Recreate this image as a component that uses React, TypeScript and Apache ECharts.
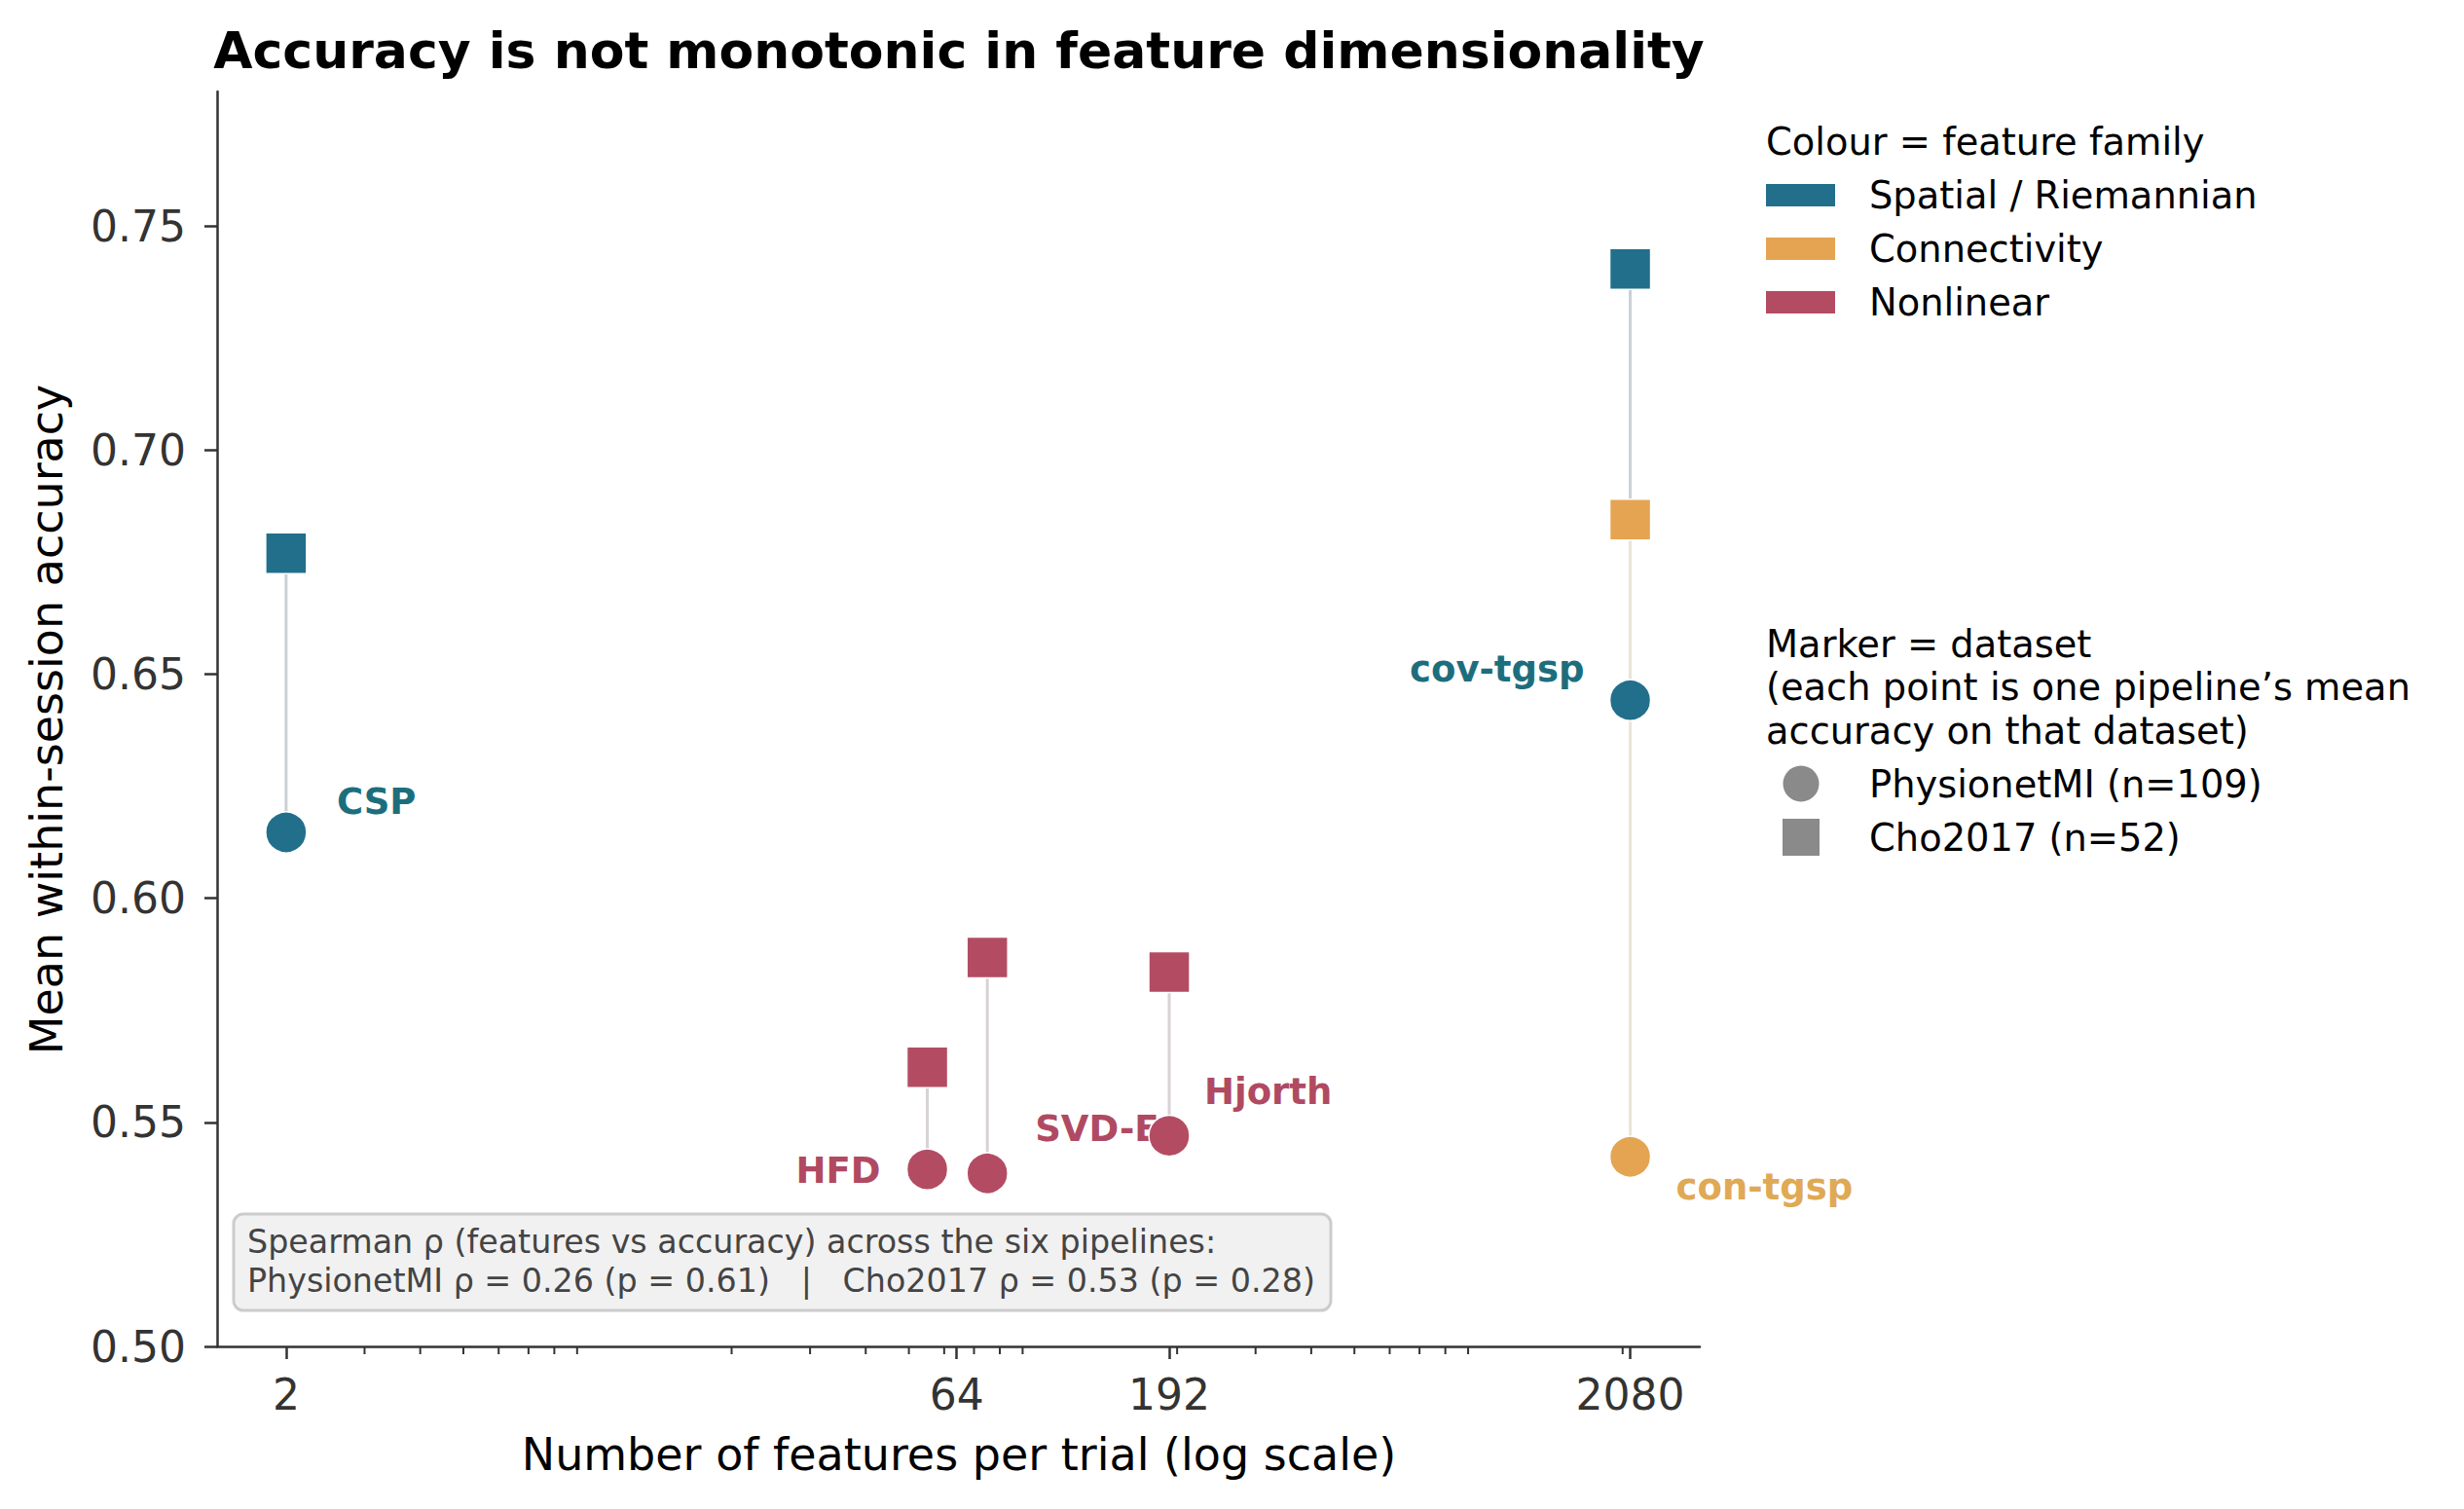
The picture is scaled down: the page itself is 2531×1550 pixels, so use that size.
import React, { useEffect, useRef } from "react";
import * as echarts from "echarts";

// ---------------- data ----------------
const pipelines = ["CSP", "cov-tgsp", "con-tgsp", "HFD", "SVD-E", "Hjorth"];
const familyOf = [0, 0, 1, 2, 2, 2]; // index into families
const families = ["Spatial / Riemannian", "Connectivity", "Nonlinear"];
const nFeatures = [2, 2080, 2080, 64, 64, 192];
// horizontal positions used for plotting (the two 64-feature pipelines are jittered apart)
const plotX = [2, 2080, 2080, 55, 75, 192];
const physionetAcc = [0.6147, 0.6442, 0.5423, 0.5395, 0.5386, 0.547];
const choAcc = [0.677, 0.7404, 0.6845, 0.5623, 0.5868, 0.5835];
const xTickValues = [2, 64, 192, 2080];
const xMinorTickValues = [3, 4, 5, 6, 7, 8, 9, 20, 30, 40, 50, 60, 70, 80, 90, 200, 300, 400, 500, 600, 700, 800, 900, 2000];
const yTickValues = [0.5, 0.55, 0.6, 0.65, 0.7, 0.75];
const datasets = ["PhysionetMI (n=109)", "Cho2017 (n=52)"];
const spearmanText = [
  "Spearman \u03c1 (features vs accuracy) across the six pipelines:",
  "PhysionetMI \u03c1 = 0.26 (p = 0.61)   |   Cho2017 \u03c1 = 0.53 (p = 0.28)",
];

// ---------------- styles ----------------
const FONT = '"DejaVu Sans", sans-serif';
const familyColors = ["#226f8b", "#e4a452", "#b34c63"];
const labelColors = ["#1d6e7d", "#dfa955", "#b04a62"];
const connectorColors = ["#cbd0d7", "#ece4d6", "#d8d2d5"];
// label offsets (px) relative to the PhysionetMI marker, and alignment
const labelOffsets: [number, number, string][] = [
  [52, -31, "left"],
  [-47, -32, "right"],
  [47, 31, "left"],
  [-48, 1, "right"],
  [49, -46, "left"],
  [36, -45, "left"],
];
const Y_MIN = 0.5;
const Y_MAX = 0.78;
const X_MIN = 1.4;
const X_MAX = 2980;
const MARKER = 42;

export default function App() {
  const ref = useRef<HTMLDivElement>(null);

  useEffect(() => {
    if (!ref.current) return;
    const chart = echarts.init(ref.current, null, { renderer: "svg" });

    const connectorData = pipelines.map((_, i) => [plotX[i], physionetAcc[i], choAcc[i], familyOf[i]]);
    const labelData = pipelines.map((_, i) => [plotX[i], physionetAcc[i], i]);

    const legendX = 1814;
    const textX = 1920;
    const legendFont = `38.4px ${FONT}`;

    const graphic: any[] = [
      {
        type: "text",
        x: 985,
        y: 52,
        style: {
          text: "Accuracy is not monotonic in feature dimensionality",
          font: `bold 52px ${FONT}`,
          fill: "#000",
          align: "center",
          verticalAlign: "middle",
        },
      },
      {
        type: "text",
        x: 48,
        y: 739,
        rotation: Math.PI / 2,
        style: {
          text: "Mean within-session accuracy",
          font: `46px ${FONT}`,
          fill: "#000",
          align: "center",
          verticalAlign: "middle",
        },
      },
      {
        type: "text",
        x: 985,
        y: 1494,
        style: {
          text: "Number of features per trial (log scale)",
          font: `46px ${FONT}`,
          fill: "#000",
          align: "center",
          verticalAlign: "middle",
        },
      },
      // annotation box
      {
        type: "rect",
        z: 10,
        shape: { x: 240, y: 1247, width: 1127, height: 99, r: 10 },
        style: { fill: "rgba(240,240,240,0.92)", stroke: "#cccccc", lineWidth: 3 },
      },
      ...spearmanText.map((t, k) => ({
        type: "text",
        z: 11,
        x: 254,
        y: 1275 + k * 40,
        style: { text: t, font: `33.3px ${FONT}`, fill: "#444", align: "left", verticalAlign: "middle" },
      })),
      // colour legend
      {
        type: "text",
        x: legendX,
        y: 145,
        style: { text: "Colour = feature family", font: legendFont, fill: "#000", verticalAlign: "middle" },
      },
      ...families.flatMap((f, k) => [
        {
          type: "rect",
          shape: { x: legendX, y: 200 + k * 55 - 11, width: 71, height: 23 },
          style: { fill: familyColors[k] },
        },
        {
          type: "text",
          x: textX,
          y: 200 + k * 55,
          style: { text: f, font: legendFont, fill: "#000", verticalAlign: "middle" },
        },
      ]),
      // marker legend
      ...["Marker = dataset", "(each point is one pipeline\u2019s mean", "accuracy on that dataset)"].map((t, k) => ({
        type: "text",
        x: legendX,
        y: 661 + k * 44.5,
        style: { text: t, font: legendFont, fill: "#000", verticalAlign: "middle" },
      })),
      {
        type: "circle",
        shape: { cx: 1850, cy: 805, r: 18.5 },
        style: { fill: "#8a8a8a" },
      },
      {
        type: "rect",
        shape: { x: 1831, y: 841, width: 38, height: 38 },
        style: { fill: "#8a8a8a" },
      },
      ...datasets.map((d, k) => ({
        type: "text",
        x: textX,
        y: 805 + k * 55,
        style: { text: d, font: legendFont, fill: "#000", verticalAlign: "middle" },
      })),
    ];

    const option: any = {
      animation: false,
      backgroundColor: "#ffffff",
      grid: { left: 223, right: 785, top: 94, bottom: 167, containLabel: false },
      xAxis: {
        type: "log",
        logBase: 10,
        min: X_MIN,
        max: X_MAX,
        axisLine: { show: true, lineStyle: { color: "#333", width: 2.5 } },
        axisTick: { show: true, customValues: xTickValues, length: 13, lineStyle: { color: "#333", width: 2.5 } },
        axisLabel: {
          customValues: xTickValues,
          formatter: (v: number) => String(Math.round(v)),
          fontSize: 44,
          fontFamily: FONT,
          color: "#333",
          margin: 27,
        },
        splitLine: { show: false },
        minorTick: { show: false },
        minorSplitLine: { show: false },
      },
      yAxis: {
        type: "value",
        min: Y_MIN,
        max: Y_MAX,
        interval: 0.05,
        axisLine: { show: true, lineStyle: { color: "#333", width: 2.5 } },
        axisTick: { show: true, customValues: yTickValues, length: 13, lineStyle: { color: "#333", width: 2.5 } },
        axisLabel: {
          customValues: yTickValues,
          formatter: (v: number) => v.toFixed(2),
          fontSize: 44,
          fontFamily: FONT,
          color: "#333",
          margin: 32,
        },
        splitLine: { show: false },
      },
      graphic,
      series: [
        {
          type: "custom",
          name: "connectors",
          z: 1,
          silent: true,
          data: connectorData,
          encode: { x: 0, y: [1, 2] },
          renderItem: (params: any, api: any) => {
            const x = api.value(0);
            const p1 = api.coord([x, api.value(1)]);
            const p2 = api.coord([x, api.value(2)]);
            const fam = api.value(3);
            return {
              type: "line",
              shape: { x1: p1[0], y1: p1[1], x2: p2[0], y2: p2[1] },
              style: { stroke: connectorColors[fam], lineWidth: 3 },
            };
          },
        },
        {
          type: "custom",
          name: "minorTicks",
          z: 1,
          silent: true,
          clip: false,
          data: xMinorTickValues.map((v) => [v, Y_MIN]),
          encode: { x: 0, y: 1 },
          renderItem: (params: any, api: any) => {
            const p = api.coord([api.value(0), api.value(1)]);
            return {
              type: "line",
              shape: { x1: p[0], y1: p[1], x2: p[0], y2: p[1] + 8 },
              style: { stroke: "#333", lineWidth: 2 },
            };
          },
        },
        {
          type: "custom",
          name: "labels",
          z: 2,
          silent: true,
          data: labelData,
          encode: { x: 0, y: 1 },
          renderItem: (params: any, api: any) => {
            const i = api.value(2);
            const p = api.coord([api.value(0), api.value(1)]);
            const [dx, dy, align] = labelOffsets[i];
            return {
              type: "text",
              x: p[0] + dx,
              y: p[1] + dy,
              style: {
                text: pipelines[i],
                font: `bold 37px ${FONT}`,
                fill: labelColors[familyOf[i]],
                align,
                verticalAlign: "middle",
              },
            };
          },
        },
        {
          type: "scatter",
          name: datasets[0],
          z: 3,
          symbol: "circle",
          symbolSize: MARKER,
          silent: true,
          data: pipelines.map((_, i) => ({
            value: [plotX[i], physionetAcc[i]],
            itemStyle: { color: familyColors[familyOf[i]], borderColor: "#ffffff", borderWidth: 1.5, opacity: 1 },
          })),
        },
        {
          type: "scatter",
          name: datasets[1],
          z: 3,
          symbol: "rect",
          symbolSize: MARKER,
          silent: true,
          data: pipelines.map((_, i) => ({
            value: [plotX[i], choAcc[i]],
            itemStyle: { color: familyColors[familyOf[i]], borderColor: "#ffffff", borderWidth: 1.5, opacity: 1 },
          })),
        },
      ],
    };

    chart.setOption(option);
    return () => chart.dispose();
  }, []);

  return (
    <div
      ref={ref}
      style={{ position: "fixed", left: 0, top: 0, width: "2531px", height: "1550px", background: "#fff" }}
    />
  );
}
